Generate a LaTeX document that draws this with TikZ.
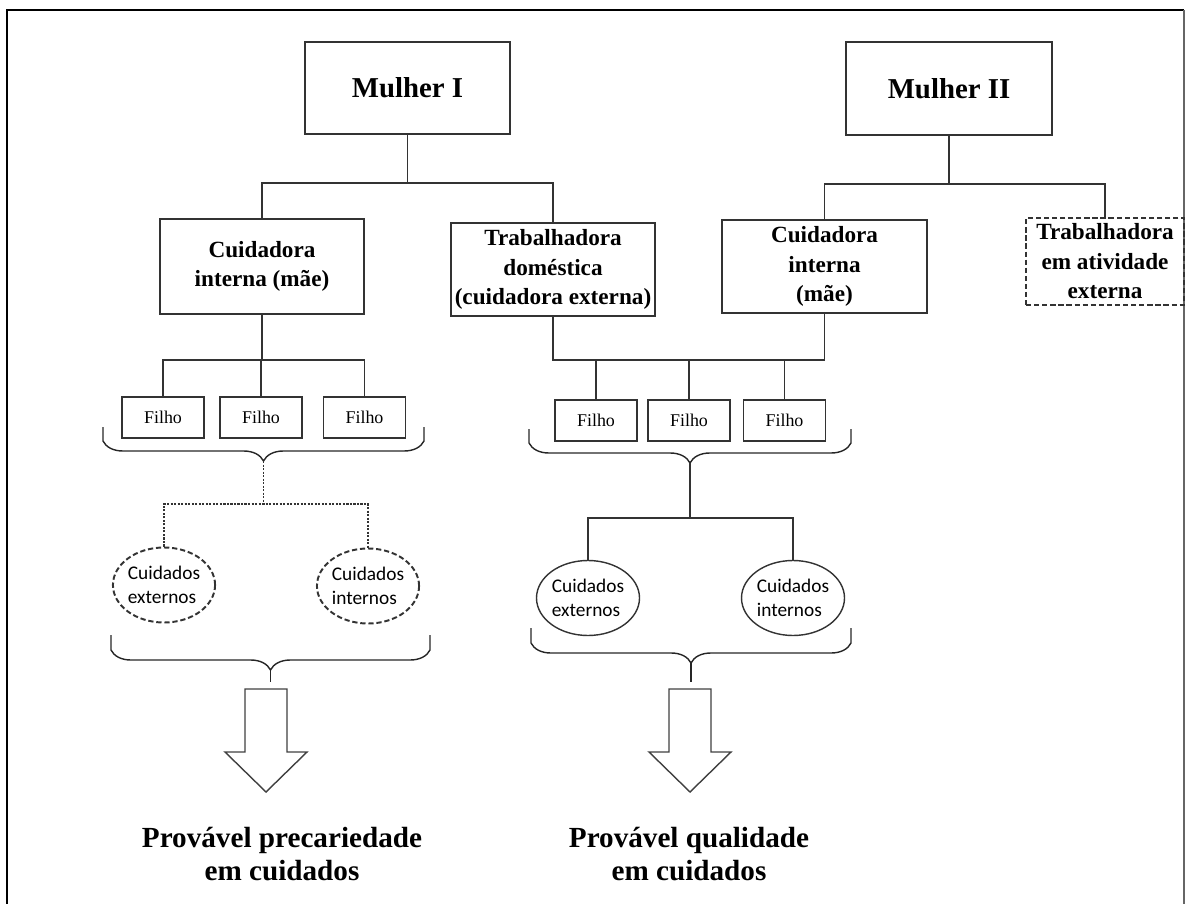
\documentclass[tikz,border=0pt]{standalone}
\usepackage{fontspec}
\setmainfont{Liberation Serif}
\newfontfamily\calibfont{Carlito}
\usepackage{tikz}
\usetikzlibrary{decorations.pathreplacing,shapes.geometric,calc}

\begin{document}
\begin{tikzpicture}[
                box/.style={rectangle, draw=black!80, line width=1.1pt, align=center, inner sep=1pt,
                    font=\fontsize{13.2}{16.8}\selectfont\bfseries},
                head/.style={box, minimum width=4.1cm, minimum height=1.84cm, font=\fontsize{16.4}{19}\selectfont\bfseries},
                kid/.style={rectangle, draw=black!80, line width=1.1pt, minimum width=1.64cm, minimum height=0.82cm,
                    inner sep=0pt, font=\fontsize{10.2}{12}\selectfont},
                care/.style={ellipse, draw=black!80, line width=0.8pt, minimum width=2.06cm, minimum height=1.5cm,
                    inner sep=0pt, align=left, font=\calibfont\fontsize{11}{13.7}\selectfont},
                gap/.style={dash pattern=on 3pt off 1.6pt, line width=1.1pt},
                link/.style={draw=black!80, line width=1pt},
                dotlink/.style={draw=black!80, line width=0.9pt, dash pattern=on 1.2pt off 0.8pt},
                bline/.style={draw=black!85, line width=0.8pt},
                brc/.style={decoration={brace, mirror, amplitude=4mm}},
                fat/.style={draw=black!75, line width=0.8pt, fill=white},
                result/.style={align=center, font=\fontsize{16.6}{18.8}\selectfont\bfseries},
            ]
            \useasboundingbox (0,0) rectangle (23.74,-18.08);
            \draw[line width=1.6pt] (0.14,-18.3) -- (0.14,-0.2) -- (23.68,-0.2);
            \draw[black!60, line width=0.8pt] (23.68,-0.2) -- (23.68,-18.3);

            \node[head] (m1) at (8.15,-1.76) {Mulher I};
            \node[head, minimum width=4.12cm, minimum height=1.86cm] (m2) at (18.98,-1.77) {Mulher II};
            \node[box, minimum width=4.08cm, minimum height=1.9cm] (c1) at (5.24,-5.33) {Cuidadora\\interna (mãe)};
            \node[box, minimum width=4.08cm, minimum height=1.86cm] (t1) at (11.06,-5.39)
            {Trabalhadora\\doméstica\\(cuidadora externa)};
            \node[box, minimum width=4.1cm, minimum height=1.86cm] (c2) at (16.49,-5.33) {Cuidadora\\interna\\(mãe)};
            \node[box, gap, minimum width=3.16cm, minimum height=1.74cm, inner sep=0pt] (t2) at (22.10,-5.23)
            {Trabalhadora\\em atividade\\externa};

            \foreach \n/\x in {f1/3.26, f2/5.22, f3/7.29}
                \node[kid] (\n) at (\x,-8.35) {Filho};
            \foreach \n/\x in {f4/11.92, f5/13.78, f6/15.69}
                \node[kid] (\n) at (\x,-8.41) {Filho};

            \node[care, gap, minimum width=2.04cm] (e1) at (3.28,-11.70) {Cuidados\\externos};
            \node[care, gap, minimum width=2.04cm] (e2) at (7.36,-11.72) {Cuidados\\internos};
            \node[care] (e3) at (11.76,-11.96) {Cuidados\\externos};
            \node[care] (e4) at (15.86,-11.96) {Cuidados\\internos};

            \node[result] (r1) at (5.64,-17.08) {Provável precariedade\\em cuidados};
            \node[result] (r2) at (13.78,-17.08) {Provável qualidade\\em cuidados};

            \draw[link] (m1.south) -- ++(0,-0.96) coordinate (j1);
            \draw[link] (c1.north) |- (j1) -| (t1.north);
            \draw[link] (m2.south) -- ++(0,-0.96) coordinate (j2);
            \draw[link] (c2.north) |- (j2) -| (t2.north);
            \draw[link] (c1.south) -- ++(0,-0.9) coordinate (j3);
            \draw[link] (f1.north) |- (j3) -| (f3.north);
            \draw[link] (f2.north) -- (f2.north |- j3);
            \coordinate (j4) at (0,-7.2);
            \draw[link] (t1.south) -- (t1.south |- j4) -| (c2.south);
            \foreach \n in {f4,f5,f6}
                \draw[link] (\n.north) -- (\n.north |- j4);

            \foreach \nm/\l/\r/\t/\b in {b1/2.06/8.48/-8.54/-8.82, b2/10.58/17.02/-8.58/-8.86,
                    b3/2.22/8.6/-12.7/-13.0, b4/10.62/17.02/-12.56/-12.86} {
                \draw[bline] (\l,\t) -- (\l,\b) decorate[brc]{-- (\r,\b)} -- (\r,\t);
                \coordinate (\nm) at ({(\l+\r)/2},\b-0.4);
            }

            \draw[dotlink] (b1) -- ++(0,-0.86) coordinate (j5);
            \draw[dotlink] (e1.north) |- (j5) -| (e2.north);
            \draw[link] (b2) -- ++(0,-1.1) coordinate (j6);
            \draw[link] (e3.north) |- (j6) -| (e4.north);

            \foreach \nm/\x in {a1/5.32, a2/13.8} {
                \coordinate (\nm) at (\x,-13.63);
                \draw[fat] (\x-0.42,-13.78) -- (\x-0.42,-15.04) -- (\x-0.82,-15.04) -- (\x,-15.84)
                    -- (\x+0.82,-15.04) -- (\x+0.42,-15.04) -- (\x+0.42,-13.78) -- cycle;
            }
            \draw[bline] (b3) -- (b3 |- a1);
            \draw[bline] (b4) -- (b4 |- a2);
        \end{tikzpicture}
\end{document}
